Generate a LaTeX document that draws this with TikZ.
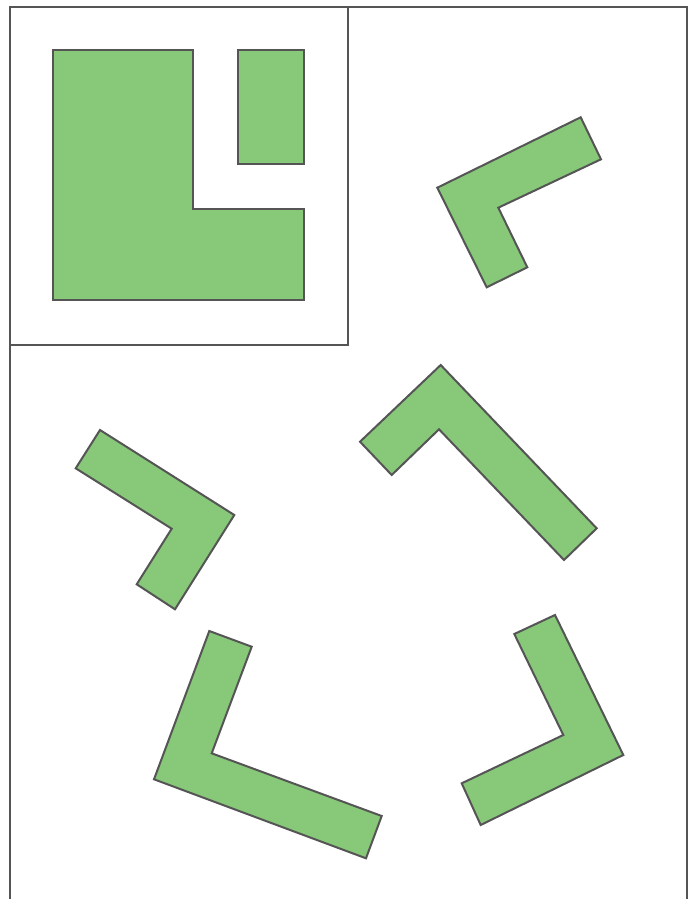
\documentclass[tikz,border=0pt]{standalone}
\usepackage{tikz}
\usepackage{xcolor}
\definecolor{piecegreen}{RGB}{135,200,121}
\definecolor{edgegray}{RGB}{85,85,85}

\begin{document}
\begin{tikzpicture}[x=1pt,y=-1pt,
    piece/.style={fill=piecegreen, draw=edgegray, line width=2pt, line join=miter},
    frame/.style={draw=edgegray, line width=2pt}]
    \useasboundingbox (0,0) rectangle (699,899);
    % outer frame, open at the bottom
    \draw[frame] (10,899) -- (10,7) -- (687,7) -- (687,899);
    \draw[frame] (10,7) rectangle (348,345);
    % target shape in the inset
    \draw[piece] (53,50) -- (193,50) -- (193,209) -- (304,209) -- (304,300) -- (53,300) -- cycle;
    \draw[piece] (238,50) rectangle (304,164);
    % loose pieces
    \draw[piece] (437.3,187.7) -- (580.7,117.3) -- (601,159.3) -- (498.3,207.7)
        -- (527.3,267.3) -- (486.7,287.3) -- cycle;
    \draw[piece] (360,441.7) -- (440.7,365) -- (596.7,528.3) -- (564,560)
        -- (439,429.3) -- (391.7,475) -- cycle;
    \draw[piece] (100,430) -- (234.3,515) -- (175,609.3) -- (136.7,584.3)
        -- (171.7,528.7) -- (75.7,468.3) -- cycle;
    \draw[piece] (209.3,631) -- (251.7,646.7) -- (211.7,753.3) -- (381.7,816)
        -- (366,858.3) -- (154,779.3) -- cycle;
    \draw[piece] (514.3,634) -- (555,615) -- (623.3,755) -- (480.7,825)
        -- (461.7,783.3) -- (563.3,735) -- cycle;
\end{tikzpicture}
\end{document}
